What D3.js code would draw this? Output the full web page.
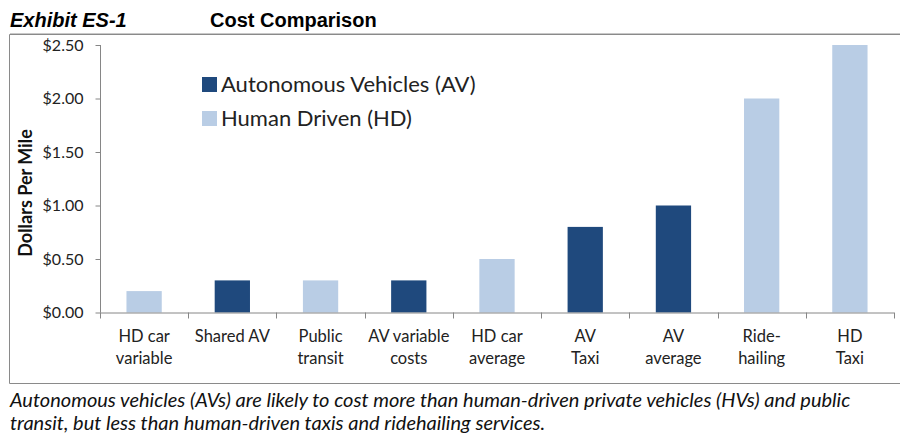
<!DOCTYPE html>
<html><head><meta charset="utf-8">
<script src="https://cdn.jsdelivr.net/npm/d3@7"></script>
<style>body{margin:0;background:#fff}svg{display:block}</style>
</head><body>
<svg id="c" width="900" height="434"></svg>
<script>
const categories = [["HD car","variable"],["Shared AV"],["Public","transit"],["AV variable","costs"],["HD car","average"],["AV","Taxi"],["AV","average"],["Ride-","hailing"],["HD","Taxi"]];
const values = [0.2, 0.3, 0.3, 0.3, 0.5, 0.8, 1.0, 2.0, 2.5];
const types = ["HD","AV","HD","AV","HD","AV","AV","HD","HD"];
const seriesNames = ["Autonomous Vehicles (AV)","Human Driven (HD)"];
const seriesKeys = ["AV","HD"];
const yTicks = [0, 0.5, 1.0, 1.5, 2.0, 2.5];

const colors = {AV:"#1F497D", HD:"#B9CDE5"};
const svg = d3.select("#c");
const font = "Lato, 'Open Sans', sans-serif";

// frame
svg.append("path").attr("d","M9.5,383.5 V34.5 H900").attr("fill","none").attr("stroke","#8a8a8a").attr("stroke-width",1);
svg.append("path").attr("d","M9.5,383.5 H900").attr("fill","none").attr("stroke","#8a8a8a").attr("stroke-width",1);
svg.append("line").attr("x1",10).attr("x2",900).attr("y1",33.5).attr("y2",33.5).attr("stroke","#c8c8c8");

// titles
svg.append("text").attr("x",10).attr("y",27).text("Exhibit ES-1")
  .attr("font-family","Arial, 'Liberation Sans', sans-serif").attr("font-weight","bold").attr("font-style","italic").attr("font-size",20);
svg.append("text").attr("x",210).attr("y",27).text("Cost Comparison")
  .attr("font-family","Arial, 'Liberation Sans', sans-serif").attr("font-weight","bold").attr("font-size",20);

const x = d3.scaleBand().domain(d3.range(categories.length)).range([100,894]).paddingInner(0.6).paddingOuter(0.3);
const y = d3.scaleLinear().domain([0,2.5]).range([312.5,45]);

// bars
svg.append("g").selectAll("rect").data(values).join("rect")
  .attr("x",(d,i)=>x(i)).attr("width",x.bandwidth())
  .attr("y",d=>y(d)).attr("height",d=>y(0)-y(d))
  .attr("fill",(d,i)=>colors[types[i]]);

// y axis
const ya = svg.append("g").attr("transform","translate(100.5,0)")
  .call(d3.axisLeft(y).tickValues(yTicks).tickSize(5).tickPadding(12).tickFormat(d=>"$"+d3.format(".2f")(d)));
ya.selectAll("path,line").attr("stroke","#868686");
ya.select(".domain").attr("d","M0,"+y(2.5)+"V"+y(0));
ya.selectAll("text").attr("font-family",font).attr("font-size",16).attr("fill","#222");

// x axis
const x0 = 100, x1 = 894;
const xa = svg.append("g");
xa.append("line").attr("x1",x0).attr("x2",x1).attr("y1",y(0)+0.5).attr("y2",y(0)+0.5).attr("stroke","#868686");
xa.selectAll("line.t").data(d3.range(categories.length+1)).join("line").attr("class","t")
  .attr("x1",i=>Math.round(x0+i*(x1-x0)/categories.length)+0.5).attr("x2",i=>Math.round(x0+i*(x1-x0)/categories.length)+0.5)
  .attr("y1",y(0)).attr("y2",y(0)+6).attr("stroke","#868686");
const lab = xa.selectAll("text").data(categories).join("text")
  .attr("text-anchor","middle").attr("font-family",font).attr("font-size",16.5).attr("fill","#222")
  .attr("transform",(d,i)=>"translate("+(x(i)+x.bandwidth()/2)+",0)");
lab.selectAll("tspan").data(d=>d).join("tspan").attr("x",0).attr("y",(d,j)=>342+j*22).text(d=>d);

// y label
svg.append("text").attr("transform","translate(32,193) rotate(-90)").attr("text-anchor","middle")
  .attr("font-family",font).attr("font-weight","bold").attr("font-size",18).attr("fill","#111").text("Dollars Per Mile");

// legend
const lg = svg.append("g").selectAll("g").data(seriesKeys).join("g")
  .attr("transform",(d,i)=>"translate(202,"+(77+i*34)+")");
lg.append("rect").attr("width",15).attr("height",15).attr("fill",d=>colors[d]);
lg.append("text").attr("x",19).attr("y",15).attr("font-family",font).attr("font-size",22).attr("fill","#222")
  .text((d,i)=>seriesNames[i]);

// caption
const cap = svg.append("text").attr("font-family",font).attr("font-style","italic").attr("font-size",20).attr("fill","#111");
cap.append("tspan").attr("x",10).attr("y",407).text("Autonomous vehicles (AVs) are likely to cost more than human-driven private vehicles (HVs) and public");
cap.append("tspan").attr("x",10).attr("y",430).text("transit, but less than human-driven taxis and ridehailing services.");
</script>
</body></html>
